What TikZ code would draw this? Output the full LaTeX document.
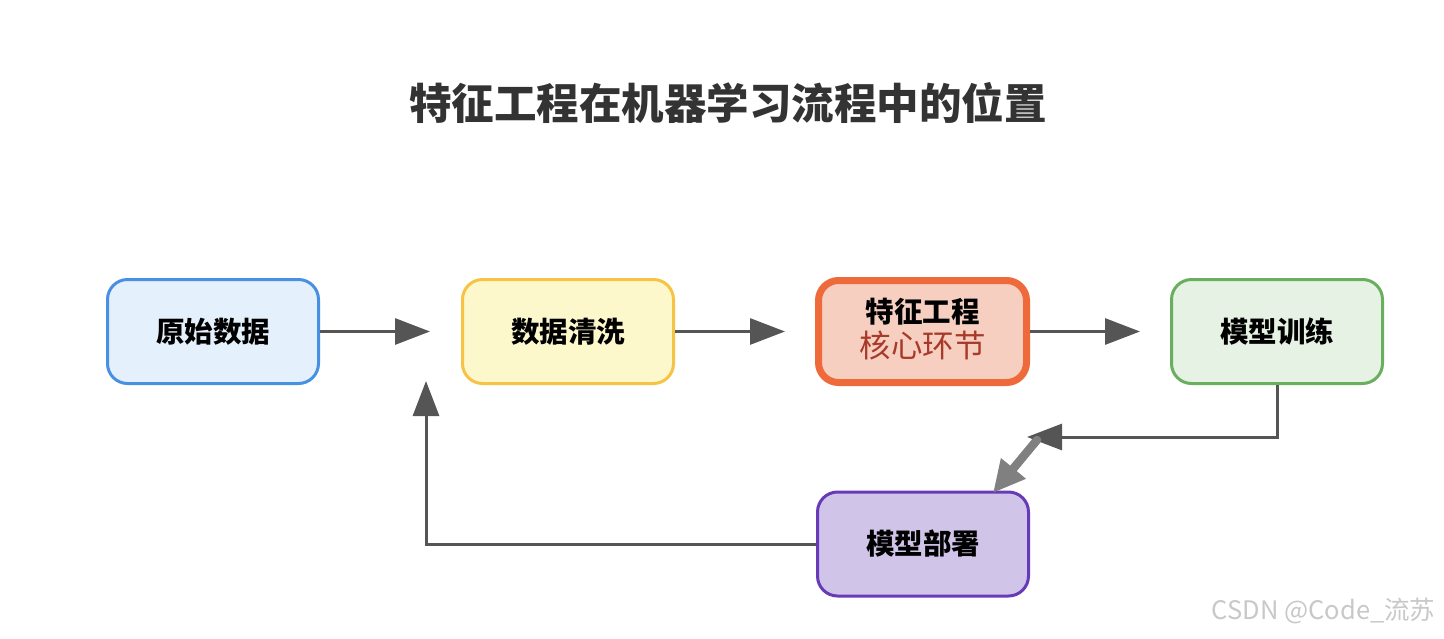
\documentclass[tikz,border=0pt]{standalone}
\usepackage{fontspec}
\setmainfont{Noto Sans CJK SC}
\usetikzlibrary{arrows.meta}
\definecolor{bluebd}{HTML}{4A90E2}
\definecolor{bluefl}{HTML}{E4F0FB}
\definecolor{yelbd}{HTML}{F6C344}
\definecolor{yelfl}{HTML}{FDF8CB}
\definecolor{orabd}{HTML}{EE6A3A}
\definecolor{orafl}{HTML}{F7CFC1}
\definecolor{grnbd}{HTML}{6AAF5F}
\definecolor{grnfl}{HTML}{E6F2E3}
\definecolor{purbd}{HTML}{673AB7}
\definecolor{purfl}{HTML}{D1C4E9}
\definecolor{arrowc}{HTML}{555555}
\definecolor{grayarr}{HTML}{808080}
\definecolor{titlec}{HTML}{333333}
\definecolor{redtext}{HTML}{A83A2A}
\definecolor{wmark}{HTML}{C8C8C8}
\tikzset{
  procbox/.style={draw, rounded corners=20pt, line width=3pt, minimum width=211pt, minimum height=104pt,
    font=\fontsize{28.5}{33}\selectfont\bfseries, text=black, align=center},
  flowline/.style={draw=arrowc, line width=3pt, -{Triangle[length=35pt,width=26pt]}, arrowc},
}
\begin{document}
\begin{tikzpicture}[x=1pt,y=-1pt]
\useasboundingbox (0,0) rectangle (1444,638);
\node[font=\fontsize{42.5}{48}\selectfont\bfseries, text=titlec] (title) at (728,103) {特征工程在机器学习流程中的位置};
\node[procbox, draw=bluebd, fill=bluefl] (raw) at (213,331.5) {原始数据};
\node[procbox, draw=yelbd, fill=yelfl] (clean) at (568,331.5) {数据清洗};
\node[procbox, draw=orabd, fill=orafl, line width=7pt, minimum width=208pt, minimum height=102pt] (fe) at (922.5,331.5) {};
\node[font=\fontsize{28.5}{33}\selectfont\bfseries, text=black] (fet) at (922.5,312) {特征工程};
\node[font=\fontsize{31.5}{36}\selectfont, text=redtext] (fes) at (922.5,345) {核心环节};
\node[procbox, draw=grnbd, fill=grnfl] (train) at (1277,331.5) {模型训练};
\node[procbox, draw=purbd, fill=purfl] (deploy) at (923,544) {模型部署};
\node[font=\fontsize{25.5}{29}\selectfont, text=wmark, anchor=east] (wm) at (1439,611) {CSDN @Code\_流苏};
\coordinate (t1) at (430,331.5);
\coordinate (t2) at (785,331.5);
\coordinate (t3) at (1140,331.5);
\coordinate (corner1) at (1277,437);
\coordinate (t4) at (1027,437);
\coordinate (g1) at (1037,440);
\coordinate (g2) at (993,493);
\coordinate (corner2) at (426,544);
\coordinate (t5) at (426,381);
\draw[flowline] (raw.east) -- (t1);
\draw[flowline] (clean.east) -- (t2);
\draw[flowline] (fe.east) -- (t3);
\draw[flowline] (train.south) -- (corner1) -- (t4);
\draw[flowline] (deploy.west) -- (corner2) -- (t5);
\draw[draw=grayarr, line width=8.5pt, line cap=round, -{Triangle[length=32pt,width=30pt]}, grayarr] (g1) -- (g2);
\end{tikzpicture}
\end{document}
